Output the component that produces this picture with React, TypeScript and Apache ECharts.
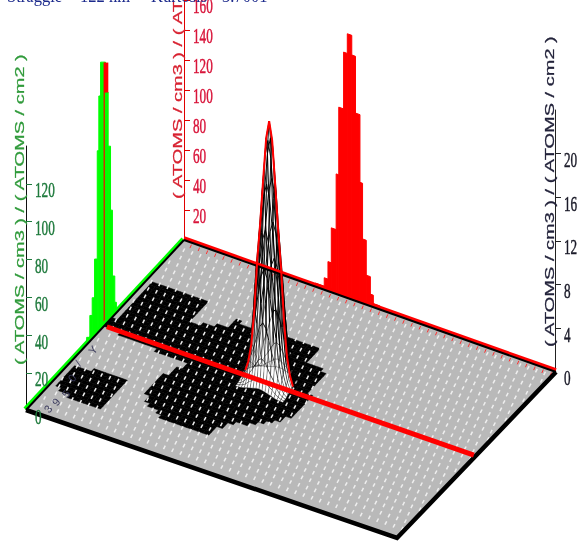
import React, { useEffect, useRef } from "react";
import * as echarts from "echarts";

// ---- data ----
const headerTexts = ["Straggle", "122 nm", "Kurtosis", "3.7001"];
const axisTitle = "( ATOMS / cm3 ) / ( ATOMS / cm2 )";
const greenTicks = [0, 20, 40, 60, 80, 100, 120];
const redTicks = [20, 40, 60, 80, 100, 120, 140, 160];
const blackTicks = [0, 4, 8, 12, 16, 20];
const edgeGlyphs = ["3", "9", "5", "0", "/", "Y"];

// green wall histogram: bin edges along the left floor edge (% of edge), heights on the green axis
const greenEdges = [38.4, 40.4, 41.9, 43.4, 45.1, 46.1, 47.2, 50.3, 52, 53.5, 54.7, 56.2, 57.2];
const greenHeights = [3, 13, 21, 40, 96, 124, 140, 122, 92, 57, 21, 6];
// red wall histogram: bin edges along the back floor edge (%), heights on the black axis
const redEdges = [35.3, 37.7, 38.7, 39.6, 40.9, 41.6, 42.9, 43.9, 45.1, 46.1, 47.3, 48, 49, 50.1, 50.9, 52.6];
const redHeights = [0.33, 1.1, 2.7, 5.9, 11, 17.2, 22.4, 24.2, 22.4, 17.2, 11, 5.9, 2.7, 1.1, 0.33];
// central peak: profile across the peak, heights on the red axis
const peakProfile = [3.5, 10, 22, 45, 80, 105, 135, 163, 175, 163, 135, 105, 80, 45, 22, 10, 3.5];
const peakStep = 0.8;
const peakU = 44.4;
const peakV = 49.5;
// black masked regions on the floor (% of floor sides)
const blobMainU = [1.7, 16.6, 16.3, 24.8, 25.6, 30.2, 37.6, 47.7, 48.5, 53.1, 53.8, 55.1, 54.9, 51.4, 44.5, 41.1, 28.8, 21.8, 21, 23.9, 16.3, 0.5];
const blobMainV = [76.6, 76, 64, 68.6, 72.8, 71.6, 73.6, 73, 64.8, 63.5, 59.9, 47.4, 37.2, 31, 25.9, 17.4, 17, 24.1, 35.3, 45.6, 46.4, 49.2];
const blobLeftU = [1.3, 1.6, 14.5, 14.4, 6.8];
const blobLeftV = [15.7, 27.7, 28.6, 12, 12.2];

// floor corners
const A = [26, 410], D = [397, 538], B = [184, 240], C = [556, 372];
const P = (u: number, v: number) => {
  const a = u / 100, b = v / 100;
  return [
    A[0] * (1 - a) * (1 - b) + D[0] * a * (1 - b) + B[0] * (1 - a) * b + C[0] * a * b,
    A[1] * (1 - a) * (1 - b) + D[1] * a * (1 - b) + B[1] * (1 - a) * b + C[1] * a * b,
  ];
};
const inPoly = (x: number, y: number, xs: number[], ys: number[]) => {
  let c = false;
  for (let i = 0, j = xs.length - 1; i < xs.length; j = i++) {
    if (ys[i] > y !== ys[j] > y && x < ((xs[j] - xs[i]) * (y - ys[i])) / (ys[j] - ys[i]) + xs[i]) c = !c;
  }
  return c;
};
const zPx = (api: any, val: number) => api.coord([0, 0])[1] - api.coord([0, val])[1];
const line = (pts: number[][], stroke: string, lineWidth: number, extra: any = {}) => ({
  type: "polyline",
  silent: true,
  shape: { points: pts },
  style: { stroke, lineWidth, fill: null, ...extra },
});

const serif = "'Liberation Serif', serif";
const sans = "'Liberation Sans', sans-serif";

const tickLabelSeries = (idx: number, ticks: number[], fill: string) => ({
  type: "custom",
  xAxisIndex: idx,
  yAxisIndex: idx,
  silent: true,
  clip: false,
  data: ticks.map((t) => [0, t]),
  renderItem: (_: any, api: any) => {
    const p = api.coord([0, api.value(1)]);
    return {
      type: "text",
      x: p[0] + 9,
      y: p[1] + 6,
      scaleX: 0.6,
      style: { text: String(api.value(1)), fontFamily: serif, fontSize: 22, fill, stroke: fill, lineWidth: 0.5, align: "left", verticalAlign: "middle" },
    };
  },
});

const titleSeries = (x: number, y: number, fill: string) => ({
  type: "custom",
  xAxisIndex: 0,
  yAxisIndex: 0,
  silent: true,
  clip: false,
  data: [[x, y]],
  renderItem: (_: any, api: any) => {
    const p = api.coord([api.value(0), api.value(1)]);
    return {
      type: "text",
      x: p[0],
      y: p[1],
      rotation: Math.PI / 2,
      scaleX: 1.54,
      style: { text: axisTitle, fontFamily: sans, fontSize: 13, fill, stroke: fill, lineWidth: 0.25, align: "left", verticalAlign: "middle" },
    };
  },
});

function buildOption() {
  const yAxisOf = (grid: number, max: number, interval: number, lineColor: string, tickColor: string, ticks: number[]) => ({
    type: "value",
    gridIndex: grid,
    min: 0,
    max,
    interval,
    splitLine: { show: false },
    axisLabel: { show: false },
    axisLine: { show: true, onZero: false, lineStyle: { color: lineColor, width: 1 } },
    axisTick: { show: true, inside: true, length: 6, customValues: ticks, lineStyle: { color: tickColor, width: 1 } },
  });
  const series: any[] = [];

  // green wall
  series.push({
    type: "custom", xAxisIndex: 1, yAxisIndex: 1, silent: true, clip: false,
    data: greenHeights.map((h, i) => [greenEdges[i], greenEdges[i + 1], h]),
    renderItem: (_: any, api: any) => {
      const a = P(0, api.value(0)), b = P(0, api.value(1));
      const mid = P(0, (api.value(0) + api.value(1)) / 2);
      const top = mid[1] - zPx(api, api.value(2));
      return { type: "polygon", silent: true, shape: { points: [[a[0], a[1] + 6], [a[0], top], [b[0], top], [b[0], b[1] + 6]] }, style: { fill: "#00ff00", stroke: "#00ff00", lineWidth: 1 } };
    },
  });
  // red tip and red line inside the green peak
  series.push({
    type: "custom", xAxisIndex: 1, yAxisIndex: 1, silent: true, clip: false,
    data: [[peakV, 140, 122]],
    renderItem: (_: any, api: any) => {
      const e = P(0, api.value(0));
      const mid = P(0, 48.5);
      const top = mid[1] - zPx(api, api.value(1));
      return {
        type: "group",
        children: [
          { type: "rect", shape: { x: e[0] - 0.3, y: top, width: 4.4, height: 30 }, style: { fill: "#ff0000" } },
          line([[e[0], top], [e[0], e[1]]], "#ff0000", 1.2),
        ],
      };
    },
  });
  // red wall
  series.push({
    type: "custom", xAxisIndex: 3, yAxisIndex: 3, silent: true, clip: false,
    data: redHeights.map((h, i) => [redEdges[i], redEdges[i + 1], h]),
    renderItem: (_: any, api: any) => {
      const a = P(api.value(0), 100), b = P(api.value(1), 100);
      const h = zPx(api, api.value(2));
      return { type: "polygon", silent: true, shape: { points: [[a[0], a[1] + 3], [a[0], a[1] - h], [b[0], b[1] - h], [b[0], b[1] + 3]] }, style: { fill: "#ff0000", stroke: "#ff0000", lineWidth: 1 } };
    },
  });
  // floor
  series.push({
    type: "custom", xAxisIndex: 0, yAxisIndex: 0, silent: true, clip: false,
    data: [[0, 0]],
    renderItem: (_: any, api: any) => {
      const corner = (u: number, v: number) => api.coord(P(u, v));
      const kids: any[] = [
        { type: "polygon", shape: { points: [corner(0, 0), corner(100, 0), corner(100, 100), corner(0, 100)] }, style: { fill: "#b9b9b9" } },
      ];
      // black masked cells
      const du = 1.5, dv = 1.7;
      for (let u = 0; u < 60; u += du) {
        for (let v = 0; v < 80; v += dv) {
          const cu = u + du / 2, cv = v + dv / 2;
          if (inPoly(cu, cv, blobMainU, blobMainV) || inPoly(cu, cv, blobLeftU, blobLeftV)) {
            kids.push({
              type: "polygon",
              shape: { points: [corner(u, v), corner(u + du, v), corner(u + du, v + dv), corner(u, v + dv)] },
              style: { fill: "#000", stroke: "#000", lineWidth: 0.5 },
            });
          }
        }
      }
      // white mesh dashes
      const ax = 8.2, ay = 2.8, bx = 3.2, by = -7.4;
      for (let i = -30; i < 90; i++) {
        for (let j = -80; j < 70; j++) {
          const x = 30 + i * ax + j * bx, y = 410 + i * ay + j * by;
          const uu = (170 * (x - 26) + 159 * (y - 410)) / 841, vv = (128 * (x - 26) - 375 * (y - 410)) / 841;
          if (uu < 1 || uu > 99 || vv < 1.5 || vv > 98.5) continue;
          kids.push(line([[x - 0.9, y + 1.7], [x + 0.9, y - 1.7]], "#efefef", 1.5));
        }
      }
      return { type: "group", children: kids };
    },
  });
  // red marks below the back edge
  series.push({
    type: "custom", xAxisIndex: 0, yAxisIndex: 0, silent: true, clip: false,
    data: Array.from({ length: 45 }, (_, i) => [2 + i * 2.2]),
    renderItem: (_: any, api: any) => {
      const p = api.coord(P(api.value(0), 100));
      return line([[p[0], p[1] + 2], [p[0] - 1.5, p[1] + 5.5]], "#ff3030", 1);
    },
  });
  // central peak wireframe
  series.push({
    type: "custom", xAxisIndex: 2, yAxisIndex: 2, silent: true, clip: false,
    data: [[0, 0]],
    renderItem: (_: any, api: any) => {
      const n = peakProfile.length, mid = (n - 1) / 2, top = peakProfile[mid];
      const hAt = (i: number, j: number) => (peakProfile[i] * peakProfile[j]) / top;
      const pt = (i: number, j: number) => {
        const f = P(peakU + (i - mid) * peakStep, peakV + (j - mid) * peakStep);
        return [f[0], f[1] - zPx(api, hAt(i, j))];
      };
      const kids: any[] = [];
      for (let j = n - 2; j >= 0; j--) {
        for (let i = 0; i < n - 1; i++) {
          if (j < mid && hAt(i, j) < 70) {
            kids.push({ type: "polygon", shape: { points: [pt(i, j), pt(i + 1, j), pt(i + 1, j + 1), pt(i, j + 1)] }, style: { fill: "#fff" } });
          }
        }
      }
      const wire = (a: number[], b: number[], h: number) => line([a, b], "#000", h < 12 ? 0.35 : h < 40 ? 0.55 : 0.95);
      for (let j = 0; j < n; j++) {
        for (let i = 0; i < n - 1; i++) {
          kids.push(wire(pt(i, j), pt(i + 1, j), hAt(i, j)));
          kids.push(wire(pt(j, i), pt(j, i + 1), hAt(j, i)));
        }
      }
      return { type: "group", children: kids };
    },
  });
  // floor edges
  series.push({
    type: "custom", xAxisIndex: 0, yAxisIndex: 0, silent: true, clip: false,
    data: [[0, 0]],
    renderItem: (_: any, api: any) => {
      const c = (u: number, v: number) => api.coord(P(u, v));
      const off = (p: number[], dx: number, dy: number) => [p[0] + dx, p[1] + dy];
      return {
        type: "group",
        children: [
          line([off(c(0, 0), -1.2, -1.2), off(c(0, 100), -1.2, -1.2)], "#00ff00", 3.5),
          line([c(0, 0), c(0, 100)], "#000", 2),
          line([off(c(0, 100), 0, -2), off(c(100, 100), 0, -2)], "#ff0000", 3.5),
          line([c(0, 100), c(100, 100)], "#000", 2),
          line([c(0, 0), c(100, 0), c(100, 100)], "#000", 4.5),
        ],
      };
    },
  });
  // red profile through the peak and the red cut line on the floor
  series.push({
    type: "custom", xAxisIndex: 2, yAxisIndex: 2, silent: true, clip: false,
    data: [[0, 0]],
    renderItem: (_: any, api: any) => {
      const mid = (peakProfile.length - 1) / 2;
      const curve = peakProfile.map((h, i) => {
        const f = P(peakU + (i - mid) * peakStep, peakV);
        return [f[0], f[1] - zPx(api, h)];
      });
      return {
        type: "group",
        children: [
          line(curve, "#ff0000", 2),
          line([P(0.7, peakV), P(99.5, peakV)], "#ff0000", 5),
        ],
      };
    },
  });
  // small glyphs along the left edge
  series.push({
    type: "custom", xAxisIndex: 0, yAxisIndex: 0, silent: true, clip: false,
    data: edgeGlyphs.map((_, i) => [[48, 56, 66, 72, 78, 93][i], [409, 402, 394, 378, 363, 350][i]]),
    renderItem: (params: any, api: any) => {
      const p = api.coord([api.value(0), api.value(1)]);
      return {
        type: "text", x: p[0], y: p[1], rotation: 0.9,
        style: { text: edgeGlyphs[params.dataIndex], fontFamily: sans, fontSize: 11, fill: "#3a3a5c", align: "center", verticalAlign: "middle" },
      };
    },
  });
  // tick labels
  series.push(tickLabelSeries(1, greenTicks, "#1f7a3d"));
  series.push(tickLabelSeries(2, redTicks, "#d8143a"));
  series.push(tickLabelSeries(3, blackTicks, "#1a1a28"));
  // rotated axis titles
  series.push(titleSeries(20, 365, "#2f9a3a"));
  series.push(titleSeries(178, 199, "#d8202f"));
  series.push(titleSeries(550, 347, "#22223a"));
  // header, cut by the top of the picture
  series.push({
    type: "custom", xAxisIndex: 0, yAxisIndex: 0, silent: true, clip: false,
    data: headerTexts.map((_, i) => [[7, 80, 151, 222][i], 5]),
    renderItem: (params: any, api: any) => {
      const p = api.coord([api.value(0), api.value(1)]);
      return {
        type: "text", x: p[0], y: p[1], scaleX: 0.92,
        style: { text: headerTexts[params.dataIndex], fontFamily: serif, fontSize: 18, fill: "#1c2a8c", align: "left", verticalAlign: "bottom" },
      };
    },
  });

  return {
    animation: false,
    backgroundColor: "#ffffff",
    grid: [
      { left: 0, top: 0, width: 587, height: 541 },
      { left: 26, top: 146, width: 10, height: 265 },
      { left: 184, top: -4, width: 10, height: 244 },
      { left: 555, top: 110, width: 10, height: 262 },
    ],
    xAxis: [
      { type: "value", gridIndex: 0, min: 0, max: 587, show: false },
      { type: "value", gridIndex: 1, min: 0, max: 1, show: false },
      { type: "value", gridIndex: 2, min: 0, max: 1, show: false },
      { type: "value", gridIndex: 3, min: 0, max: 1, show: false },
    ],
    yAxis: [
      { type: "value", gridIndex: 0, min: 0, max: 541, inverse: true, show: false },
      yAxisOf(1, 140, 20, "#111111", "#1f7a3d", greenTicks.slice(1)),
      yAxisOf(2, 160, 20, "#e00000", "#e00000", redTicks),
      yAxisOf(3, 24, 4, "#222222", "#222222", blackTicks.slice(1)),
    ],
    series,
  };
}

export default function App() {
  const ref = useRef<HTMLDivElement>(null);
  useEffect(() => {
    const chart = echarts.init(ref.current!, undefined, { renderer: "svg" });
    chart.setOption(buildOption() as any);
    return () => chart.dispose();
  }, []);
  return <div ref={ref} style={{ position: "absolute", left: 0, top: 0, width: 587, height: 541, filter: "blur(0.5px)" }} />;
}
